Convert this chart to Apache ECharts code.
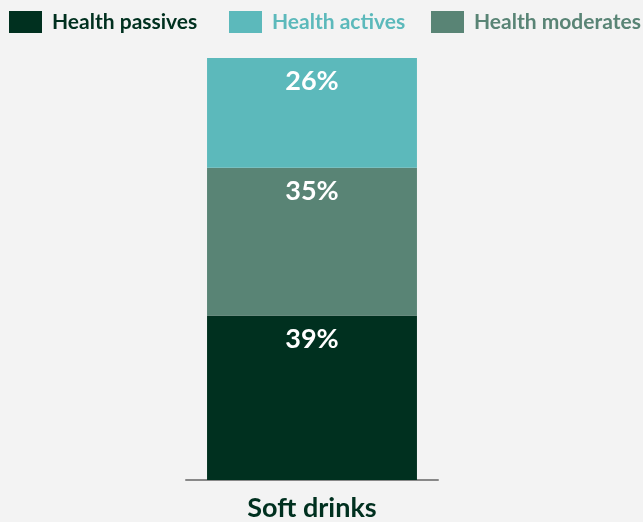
<!DOCTYPE html>
<html><head><meta charset="utf-8">
<script src="https://cdn.jsdelivr.net/npm/echarts@6/dist/echarts.min.js"></script>
<style>html,body{margin:0;padding:0;background:#f3f3f3}#c{width:643px;height:522px}</style>
</head><body><div id="c"></div>
<script>
const categories = ['Soft drinks'];
const seriesNames = ['Health passives', 'Health actives', 'Health moderates'];
const passives = [39];
const moderates = [35];
const actives = [26];
const colors = {'Health passives':'#00301f','Health actives':'#5cb9bb','Health moderates':'#598475'};
const FONT = 'Lato';
const chart = echarts.init(document.getElementById('c'));
function legend(name, left){
  return {data:[name], left:left, top:11, itemWidth:33, itemHeight:22, itemGap:0, padding:0,
    icon:'rect', textStyle:{color:colors[name], fontFamily:FONT, fontWeight:'bold', fontSize:21, padding:[3,0,0,5]}};
}
const lbl = {show:true, position:'insideTop', distance:10, color:'#fff', fontFamily:FONT, fontWeight:'bold', fontSize:27,
  formatter: p => p.value + '%'};
chart.setOption({
  backgroundColor:'#f3f3f3',
  animation:false,
  legend:[legend('Health passives',9), legend('Health actives',229), legend('Health moderates',431)],
  grid:{left:186, right:205, top:58, bottom:40},
  xAxis:{type:'category', data:categories,
    axisLine:{lineStyle:{color:'#888', width:2}}, axisTick:{show:false},
    axisLabel:{color:'#00301f', fontFamily:FONT, fontWeight:'bold', fontSize:27, margin:15}},
  yAxis:{type:'value', min:0, max:100, show:false, splitLine:{show:false}},
  series:[
    {name:'Health passives', type:'bar', stack:'s', data:passives, barWidth:'83.3%', itemStyle:{color:colors['Health passives']}, label:lbl},
    {name:'Health moderates', type:'bar', stack:'s', data:moderates, itemStyle:{color:colors['Health moderates']}, label:lbl},
    {name:'Health actives', type:'bar', stack:'s', data:actives, itemStyle:{color:colors['Health actives']}, label:lbl}
  ]
});
</script></body></html>
